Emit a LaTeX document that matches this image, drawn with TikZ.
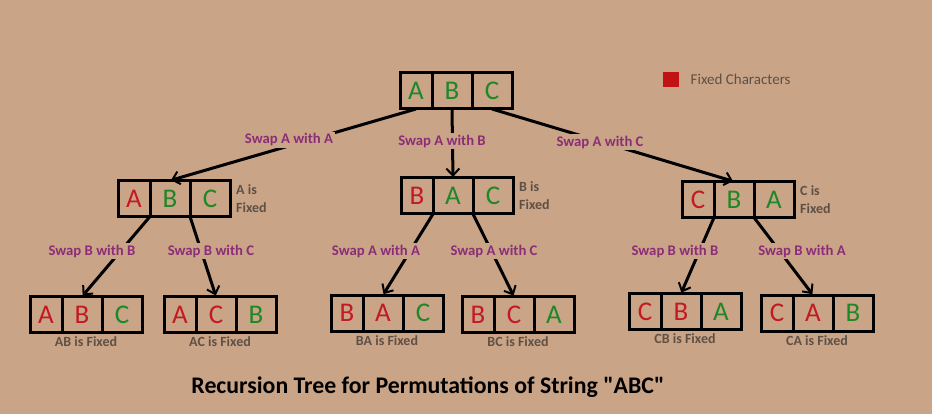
\documentclass[tikz,border=0pt]{standalone}
\usepackage{fontspec}
\setmainfont{Carlito}[Ligatures=TeXOff]
\usetikzlibrary{positioning,arrows.meta,calc}

\definecolor{bgtan}{RGB}{201,164,135}
\definecolor{fixred}{RGB}{195,25,35}
\definecolor{freegreen}{RGB}{30,135,40}
\definecolor{swapcol}{RGB}{140,45,120}
\definecolor{fixgray}{RGB}{95,80,70}
\definecolor{legred}{RGB}{192,20,20}

\begin{document}
\begin{tikzpicture}[x=1pt, y=-1pt,
    cell/.style={draw, line width=3pt, outer sep=0pt, inner sep=0pt,
        minimum height=36pt, font=\fontsize{27}{27}\selectfont},
    swap/.style={fill=bgtan, text=swapcol, inner sep=1.5pt,
        font=\bfseries\fontsize{14.7}{16}\selectfont},
    fixed/.style={text=fixgray, inner sep=1pt, align=left,
        font=\bfseries\fontsize{14}{18}\selectfont},
    move/.style={line width=3pt, shorten >=1pt,
        -{Straight Barb[length=7pt, width=13pt, line width=2pt]}}]
    \path[use as bounding box, fill=bgtan] (0,0) rectangle (932,414);

    % boxes of three cells
    \foreach \n/\x/\y/\a/\ca/\b/\cb/\c/\cc in {
        root/400/91/A/freegreen/B/freegreen/C/freegreen,
        L/118/198.5/A/fixred/B/freegreen/C/freegreen,
        M/401/196/B/fixred/A/freegreen/C/freegreen,
        R/682/199.5/C/fixred/B/freegreen/A/freegreen,
        LL/30/314.5/A/fixred/B/fixred/C/freegreen,
        LR/164/314.5/A/fixred/C/fixred/B/freegreen,
        ML/331/313/B/fixred/A/fixred/C/freegreen,
        MR/462/314.5/B/fixred/C/fixred/A/freegreen,
        RL/629/311.5/C/fixred/B/fixred/A/freegreen,
        RR/761/313/C/fixred/A/fixred/B/freegreen}{
        \node[cell, minimum width=32pt, text=\ca, anchor=west] (\n-1) at (\x,\y) {\a};
        \node[cell, minimum width=40pt, text=\cb, right=0pt of \n-1] (\n-2) {\b};
        \node[cell, minimum width=40pt, text=\cc, right=0pt of \n-2] (\n-3) {\c};
    }

    % swaps
    \draw[move] (root-1.south) -- (L-2.north);
    \draw[move] (root-2.south) -- (M-2.north);
    \draw[move] (root-3.south) -- (R-2.north);
    \foreach \p/\l/\r in {L/LL/LR, M/ML/MR, R/RL/RR}{
        \draw[move] (\p-1.south east) -- (\l-2.north);
        \draw[move] (\p-2.south east) -- (\r-2.north);
    }

    \node[swap] (sAA) at (289,140) {Swap A with A};
    \node[swap] (sAB) at (442,141) {Swap A with B};
    \node[swap] (sAC) at (600,142) {Swap A with C};
    \node[swap] (sBB1) at (92,251) {Swap B with B};
    \node[swap] (sBC) at (211,251) {Swap B with C};
    \node[swap] (sAA2) at (376,251) {Swap A with A};
    \node[swap] (sAC2) at (494,251) {Swap A with C};
    \node[swap] (sBB2) at (675,251) {Swap B with B};
    \node[swap] (sBA) at (802,251) {Swap B with A};

    % fixed notes
    \foreach \n/\t in {L/A, M/B, R/C}
        \node[fixed, right=5pt of \n-3] (\n-note) {\t{} is\\Fixed};
    \foreach \n/\t in {LL/AB, LR/AC, ML/BA, MR/BC, RL/CB, RR/CA}
        \node[fixed, anchor=north] (\n-note)
            at ($(\n-1.south west)!0.5!(\n-3.south east)+(0,3)$) {\t{} is Fixed};

    % legend
    \node[fill=legred, minimum width=16pt, minimum height=15pt, inner sep=0pt] (key) at (671,79.5) {};
    \node[text=fixgray, font=\fontsize{15}{17}\selectfont, right=8pt of key] (keytext) {Fixed Characters};

    \node[font=\bfseries\fontsize{23.8}{27}\selectfont] (title) at (428,387)
        {Recursion Tree for Permutations of String "ABC"};
\end{tikzpicture}
\end{document}
